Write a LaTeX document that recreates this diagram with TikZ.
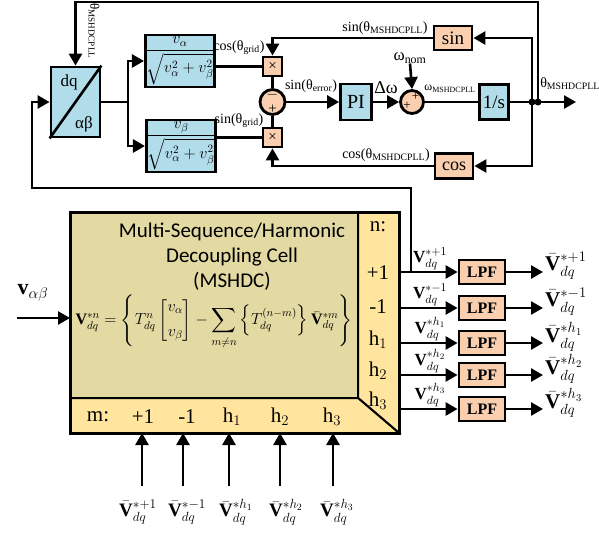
\RequirePackage{fix-cm}
\documentclass[tikz,border=0pt]{standalone}
\usepackage{amsmath}
\usepackage{fontspec}
\setmainfont{Liberation Serif}
\newfontfamily\calibri{Carlito}
\usetikzlibrary{arrows.meta}
\definecolor{bluef}{HTML}{B1DCE9}
\definecolor{peach}{HTML}{F9CFB0}
\definecolor{khaki}{HTML}{E3D9A2}
\definecolor{ylw}{HTML}{FFE59D}
\newcommand\msh{\textsubscript{MSHDCPLL}}
\newcommand\fs[1]{\fontsize{#1}{#1}\selectfont}
\begin{document}
\begin{tikzpicture}[x=1pt,y=-1pt,
  blk/.style={draw, line width=2.8pt, fill=bluef, inner sep=0pt},
  pch/.style={draw, line width=2.8pt, fill=peach, inner sep=0pt},
  wire/.style={line width=2.6pt},
  arr/.style={line width=2.6pt, -{Triangle[length=12pt,width=13pt]}},
  lbl/.style={inner sep=0pt, font=\fs{14}},
  lpf/.style={pch, minimum width=46pt, minimum height=24pt, font=\bfseries\fs{16}},
  row/.style={inner sep=0pt, font=\fs{21}}]
\useasboundingbox (0,0) rectangle (599,535);

% ---------- PLL part ----------
\node[blk, minimum width=49pt, minimum height=70pt] (dq) at (75.5,102) {};
\draw[line width=2.6pt] (dq.south west) -- (dq.north east);
\node[inner sep=0pt, font=\fs{17}] (dqt) at (69,82) {dq};
\node[inner sep=0pt, font=\fs{17}] (abt) at (84,124) {αβ};

\node[blk, minimum width=65pt, minimum height=52pt] (nA) at (180,61)
  {\fs{16}$\displaystyle\frac{v_\alpha}{\sqrt{v_\alpha^2+v_\beta^2}}$};
\node[blk, minimum width=64pt, minimum height=52pt] (nB) at (181,146)
  {\fs{16}$\displaystyle\frac{v_\beta}{\sqrt{v_\alpha^2+v_\beta^2}}$};

\node[pch, minimum size=19pt, font=\fs{15}] (mx1) at (272.5,66.5) {×};
\node[pch, minimum size=19pt, font=\fs{15}] (mx2) at (272.5,137.5) {×};
\node[pch, circle, minimum size=25pt] (sum1) at (272.5,102) {};
\node[inner sep=0pt, font=\fs{15}] (s1m) at (272.5,95) {$-$};
\node[inner sep=0pt, font=\fs{15}] (s1p) at (272.5,109) {+};

\node[blk, minimum width=31pt, minimum height=36pt, font=\fs{20}] (PI) at (356,102) {PI};
\node[pch, circle, minimum size=23pt] (sum2) at (412,102) {};
\node[inner sep=0pt, font=\fs{13}] (s2a) at (415.5,97) {+};
\node[inner sep=0pt, font=\fs{13}] (s2b) at (407,105.5) {+};
\node[blk, minimum width=29pt, minimum height=35pt, font=\fs{19}] (integ) at (494,102) {1/s};
\node[pch, minimum width=38pt, minimum height=24pt, font=\fs{19}] (sinb) at (453,38) {sin};
\node[pch, minimum width=38pt, minimum height=25pt, font=\fs{18}] (cosb) at (454,166) {cos};

\node[inner sep=0pt, font=\fs{17}] (wnom) at (410,58) {ω\textsubscript{nom}};

\coordinate (sp) at (128,102);
\coordinate (j1) at (532,102);
\coordinate (j2) at (538,102);
\coordinate (tip) at (576,102);
\coordinate (topR) at (538,2);

\draw[wire] (dq.east) -- (sp);
\draw[arr] (sp) |- (nA.west);
\draw[arr] (sp) |- (nB.west);
\draw[wire] (nA.east |- mx1) -- (mx1.west);
\draw[wire] (nB.east |- mx2) -- (mx2.west);
\draw[wire] (mx1.south) -- (sum1.north);
\draw[wire] (mx2.north) -- (sum1.south);
\draw[arr] (sum1.east) -- (PI.west);
\draw[arr] (PI.east) -- (sum2.west);
\draw[arr] (wnom.south) -- (sum2.north);
\draw[wire] (sum2.east) -- (integ.west);
\draw[arr] (integ.east) -- (tip);
\draw[arr] (j1) |- (sinb.east);
\draw[arr] (j1) |- (cosb.east);
\draw[arr] (sinb.west) -| (mx1.north);
\draw[arr] (cosb.west) -| (mx2.south);
\draw[arr] (j2) -- (topR) -| (dq.north);
\fill (j1) circle (3.5pt);
\fill (j2) circle (3.5pt);

\node[lbl] (lcg) at (239,48) {cos(θ\textsubscript{grid})};
\node[lbl] (lsg) at (239,121) {sin(θ\textsubscript{grid})};
\node[lbl] (lsm) at (385,28) {sin(θ\msh)};
\node[lbl] (lcm) at (386,155) {cos(θ\msh)};
\node[lbl] (lse) at (311,86) {sin(θ\textsubscript{error})};
\node[inner sep=0pt, font=\fs{18}] (ldw) at (386,88) {Δω};
\node[inner sep=0pt, font=\fs{12}] (lwm) at (450,89) {ω\msh};
\node[lbl] (lth) at (570,84) {θ\msh};
\node[inner sep=0pt, font=\fs{13}, rotate=-90] (lthv) at (94,31) {θ\msh};

% ---------- MSHDC cell ----------
\fill[khaki] (70,212) rectangle (358,398);
\filldraw[fill=ylw, line width=2pt] (358,212) -- (399,212) -- (399,433) -- (358,398) -- cycle;
\filldraw[fill=ylw, line width=2pt] (70,398) -- (358,398) -- (399,433) -- (70,433) -- cycle;
\draw[line width=3pt] (70,212) rectangle (399,433);

\node[inner sep=0pt, align=center, font=\calibri\fontsize{21}{25}\selectfont] (title) at (232,257)
  {Multi-Sequence/Harmonic\\Decoupling Cell\\(MSHDC)};
\node[inner sep=0pt, font=\fs{16}] (eqn) at (214,322)
  {$\mathbf{V}_{dq}^{*n}=\left\{T_{dq}^{n}\begin{bmatrix}v_\alpha\\[9pt] v_\beta\end{bmatrix}-\displaystyle\sum_{m\neq n}\left\{T_{dq}^{(n-m)}\right\}\bar{\mathbf{V}}_{dq}^{*m}\right\}$};

\node[row] (rn) at (378,227) {n:};
\node[row] (r1) at (378,273) {+1};
\node[row] (r2) at (378,307) {-1};
\node[row] (r3) at (378,340) {h$_1$};
\node[row] (r4) at (378,371) {h$_2$};
\node[row] (r5) at (378,401) {h$_3$};

\node[row] (cm) at (98,417) {m:};
\node[row] (c1) at (143,417) {+1};
\node[row] (c2) at (187,417) {-1};
\node[row] (c3) at (232,417) {h$_1$};
\node[row] (c4) at (280,417) {h$_2$};
\node[row] (c5) at (332,417) {h$_3$};

% input
\coordinate (vin) at (17,318);
\coordinate (vinE) at (70,318);
\draw[arr] (vin) -- (vinE);
\node[inner sep=0pt, font=\fs{22}] (lvab) at (33,293) {$\mathbf{v}_{\alpha\beta}$};

% outputs
\foreach \i/\y/\s in {1/272/{+1},2/308/{-1},3/343/{h_1},4/375/{h_2},5/409/{h_3}}{
  \coordinate (o\i) at (399,\y);
  \node[lpf] (lpf\i) at (482,\y) {LPF};
  \coordinate (e\i) at (543,\y);
  \draw[arr] (o\i) -- (lpf\i.west);
  \draw[arr] (lpf\i.east) -- (e\i);
  \node[inner sep=0pt, anchor=south, font=\fs{17}] (vi\i) at (430,\y-2) {$\mathbf{V}_{dq}^{*\s}$};
  \node[inner sep=0pt, anchor=west, font=\fs{21}] (vo\i) at (545,\y-6) {$\bar{\mathbf{V}}_{dq}^{*\s}$};
}
\coordinate (fbA) at (411,272);
\coordinate (fbB) at (32,188);
\draw[arr] (fbA) |- (fbB) |- (dq.west);

% bottom inputs
\foreach \i/\x/\lx/\s in {1/142/138/{+1},2/183/187/{-1},3/229/236/{h_1},4/280/286/{h_2},5/333/337/{h_3}}{
  \coordinate (b\i) at (\x,486);
  \coordinate (t\i) at (\x,433);
  \draw[arr] (b\i) -- (t\i);
  \node[inner sep=0pt, font=\fs{19}] (vb\i) at (\lx,512) {$\bar{\mathbf{V}}_{dq}^{*\s}$};
}
\end{tikzpicture}
\end{document}
